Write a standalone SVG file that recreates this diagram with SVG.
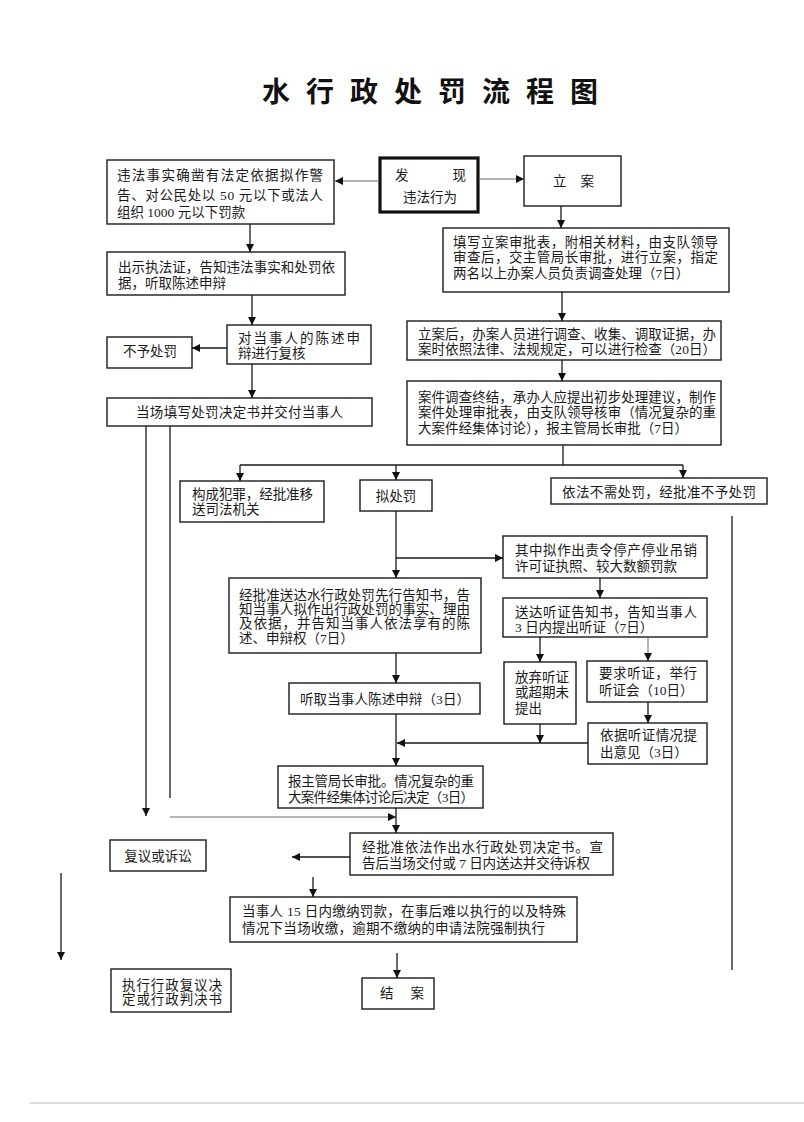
<svg xmlns="http://www.w3.org/2000/svg" width="804" height="1122" viewBox="0 0 804 1122">
<style>
.bx{fill:#fff;stroke:#1a1a1a;stroke-width:1.4}
.bk{fill:#fff;stroke:#111;stroke-width:3.2}
.t{font-family:"Liberation Serif","Noto Sans CJK SC",serif;font-size:13.5px;fill:#1a1a1a}
.c{text-anchor:middle}
.ln{fill:none;stroke:#1a1a1a;stroke-width:1.3}
.th{fill:none;stroke:#444;stroke-width:0.8}
.ttl{font-family:"Liberation Serif","Noto Sans CJK SC",serif;font-size:28px;font-weight:bold;fill:#111}
</style>
<defs>
<marker id="ar" viewBox="0 0 10 10" refX="10" refY="5" markerWidth="8" markerHeight="8" markerUnits="userSpaceOnUse" orient="auto">
<path d="M0,0 L10,5 L0,10 z" fill="#111"/>
</marker>
</defs>
<rect width="804" height="1122" fill="#fff"/>
<text class="ttl" x="262" y="102" textLength="336" lengthAdjust="spacing">水行政处罚流程图</text>

<g id="n1"><rect class="bx" x="107" y="160" width="227" height="64"/>
<text class="t" x="117" y="180" textLength="206" lengthAdjust="spacing">违法事实确凿有法定依据拟作警</text>
<text class="t" x="117" y="200" textLength="206" lengthAdjust="spacing">告、对公民处以 50 元以下或法人</text>
<text class="t" x="117" y="217">组织 1000 元以下罚款</text></g>

<g id="n2"><rect class="bk" x="380" y="158" width="98" height="54"/>
<text class="t" x="395" y="180" textLength="71" lengthAdjust="spacing">发现</text>
<text class="t c" x="430" y="202">违法行为</text></g>

<g id="n3"><rect class="bx" x="524" y="156" width="97" height="50"/>
<text class="t" x="553" y="186" textLength="41" lengthAdjust="spacing">立案</text></g>

<g id="n4"><rect class="bx" x="443" y="228" width="286" height="64"/>
<text class="t" x="453" y="247" textLength="265" lengthAdjust="spacing">填写立案审批表，附相关材料，由支队领导</text>
<text class="t" x="453" y="262" textLength="265" lengthAdjust="spacing">审查后，交主管局长审批，进行立案，指定</text>
<text class="t" x="453" y="278">两名以上办案人员负责调查处理（7日）</text></g>

<g id="n5"><rect class="bx" x="107" y="252" width="238" height="43"/>
<text class="t" x="118" y="272" textLength="217" lengthAdjust="spacing">出示执法证，告知违法事实和处罚依</text>
<text class="t" x="118" y="288">据，听取陈述申辩</text></g>

<g id="n6"><rect class="bx" x="227" y="325" width="144" height="39"/>
<text class="t" x="238" y="343" textLength="122" lengthAdjust="spacing">对当事人的陈述申</text>
<text class="t" x="238" y="358">辩进行复核</text></g>

<g id="n7"><rect class="bx" x="107" y="337" width="85" height="31"/>
<text class="t c" x="150" y="356">不予处罚</text></g>

<g id="n8"><rect class="bx" x="107" y="398" width="265" height="28"/>
<text class="t" x="136" y="417" textLength="207" lengthAdjust="spacing">当场填写处罚决定书并交付当事人</text></g>

<g id="n9"><rect class="bx" x="407" y="321" width="314" height="39"/>
<text class="t" x="418" y="339" textLength="298" lengthAdjust="spacing">立案后，办案人员进行调查、收集、调取证据，办</text>
<text class="t" x="418" y="354" textLength="298" lengthAdjust="spacing">案时依照法律、法规规定，可以进行检查（20日）</text></g>

<g id="n10"><rect class="bx" x="407" y="381" width="314" height="64"/>
<text class="t" x="418" y="402" textLength="298" lengthAdjust="spacing">案件调查终结，承办人应提出初步处理建议，制作</text>
<text class="t" x="418" y="417" textLength="298" lengthAdjust="spacing">案件处理审批表，由支队领导核审（情况复杂的重</text>
<text class="t" x="418" y="433">大案件经集体讨论），报主管局长审批（7日）</text></g>

<g id="n11"><rect class="bx" x="180" y="481" width="144" height="41"/>
<text class="t" x="192" y="499" textLength="121" lengthAdjust="spacing">构成犯罪，经批准移</text>
<text class="t" x="192" y="514">送司法机关</text></g>

<g id="n12"><rect class="bx" x="360" y="480" width="72" height="31"/>
<text class="t c" x="396" y="501">拟处罚</text></g>

<g id="n13"><rect class="bx" x="551" y="478" width="216" height="26"/>
<text class="t" x="562" y="497" textLength="194" lengthAdjust="spacing">依法不需处罚，经批准不予处罚</text></g>

<g id="n14"><rect class="bx" x="503" y="536" width="204" height="42"/>
<text class="t" x="515" y="555" textLength="182" lengthAdjust="spacing">其中拟作出责令停产停业吊销</text>
<text class="t" x="515" y="571">许可证执照、较大数额罚款</text></g>

<g id="n15"><rect class="bx" x="503" y="598" width="204" height="39"/>
<text class="t" x="515" y="617" textLength="182" lengthAdjust="spacing">送达听证告知书，告知当事人</text>
<text class="t" x="515" y="632">3 日内提出听证（7日）</text></g>

<g id="n16"><rect class="bx" x="229" y="578" width="252" height="75"/>
<text class="t" x="239" y="600" textLength="231" lengthAdjust="spacing">经批准送达水行政处罚先行告知书，告</text>
<text class="t" x="239" y="614" textLength="231" lengthAdjust="spacing">知当事人拟作出行政处罚的事实、理由</text>
<text class="t" x="239" y="628" textLength="231" lengthAdjust="spacing">及依据，并告知当事人依法享有的陈</text>
<text class="t" x="239" y="643">述、申辩权（7日）</text></g>

<g id="n17"><rect class="bx" x="289" y="683" width="191" height="31"/>
<text class="t" x="300" y="704" textLength="170" lengthAdjust="spacing">听取当事人陈述申辩（3日）</text></g>

<g id="n18"><rect class="bx" x="278" y="766" width="205" height="42"/>
<text class="t" x="288" y="786" textLength="186" lengthAdjust="spacing">报主管局长审批。情况复杂的重</text>
<text class="t" x="288" y="802" textLength="186" lengthAdjust="spacing">大案件经集体讨论后决定（3日）</text></g>

<g id="n19"><rect class="bx" x="504" y="662" width="72" height="62"/>
<text class="t" x="515" y="682">放弃听证</text>
<text class="t" x="515" y="697">或超期未</text>
<text class="t" x="515" y="713">提出</text></g>

<g id="n20"><rect class="bx" x="587" y="661" width="120" height="41"/>
<text class="t" x="599" y="678" textLength="98" lengthAdjust="spacing">要求听证，举行</text>
<text class="t" x="599" y="695">听证会（10日）</text></g>

<g id="n21"><rect class="bx" x="588" y="723" width="119" height="41"/>
<text class="t" x="600" y="740" textLength="97" lengthAdjust="spacing">依据听证情况提</text>
<text class="t" x="600" y="757">出意见（3日）</text></g>

<g id="n22"><rect class="bx" x="350" y="833" width="263" height="42"/>
<text class="t" x="362" y="852" textLength="241" lengthAdjust="spacing">经批准依法作出水行政处罚决定书。宣</text>
<text class="t" x="362" y="868" textLength="228" lengthAdjust="spacing">告后当场交付或 7 日内送达并交待诉权</text></g>

<g id="n23"><rect class="bx" x="110" y="840" width="96" height="31"/>
<text class="t c" x="158" y="861">复议或诉讼</text></g>

<g id="n24"><rect class="bx" x="230" y="897" width="347" height="45"/>
<text class="t" x="242" y="916" textLength="324" lengthAdjust="spacing">当事人 15 日内缴纳罚款，在事后难以执行的以及特殊</text>
<text class="t" x="242" y="933" textLength="303" lengthAdjust="spacing">情况下当场收缴，逾期不缴纳的申请法院强制执行</text></g>

<g id="n25"><rect class="bx" x="362" y="978" width="72" height="31"/>
<text class="t" x="380" y="998" textLength="44" lengthAdjust="spacing">结案</text></g>

<g id="n26"><rect class="bx" x="111" y="969" width="120" height="43"/>
<text class="t" x="122" y="990" textLength="100" lengthAdjust="spacing">执行行政复议决</text>
<text class="t" x="122" y="1004" textLength="100" lengthAdjust="spacing">定或行政判决书</text></g>

<g id="connectors">
<path class="th" d="M380,181 H335" marker-end="url(#ar)"/>
<path class="th" d="M478,179 H524" marker-end="url(#ar)"/>
<path class="ln" d="M561,206 V228" marker-end="url(#ar)"/>
<path class="ln" d="M562,292 V321" marker-end="url(#ar)"/>
<path class="ln" d="M562,360 V381" marker-end="url(#ar)"/>
<path class="ln" d="M563,445 V465 M240,465 H683"/>
<path class="ln" d="M240,465 V481" marker-end="url(#ar)"/>
<path class="ln" d="M396,465 V480" marker-end="url(#ar)"/>
<path class="ln" d="M683,465 V478" marker-end="url(#ar)"/>
<path class="ln" d="M250,224 V252" marker-end="url(#ar)"/>
<path class="ln" d="M252,295 V325" marker-end="url(#ar)"/>
<path class="ln" d="M227,348 H192" marker-end="url(#ar)"/>
<path class="ln" d="M252,364 V398" marker-end="url(#ar)"/>
<path class="ln" d="M146,426 V816" marker-end="url(#ar)"/>
<path class="ln" d="M170,426 V798"/>
<path class="th" d="M170,817 H396" marker-end="url(#ar)"/>
<path class="ln" d="M396,511 V578" marker-end="url(#ar)"/>
<path class="ln" d="M396,558 H503" marker-end="url(#ar)"/>
<path class="ln" d="M600,578 V598" marker-end="url(#ar)"/>
<path class="ln" d="M540,637 V662" marker-end="url(#ar)"/>
<path class="th" d="M648,637 V661" marker-end="url(#ar)"/>
<path class="ln" d="M648,702 V723" marker-end="url(#ar)"/>
<path class="ln" d="M540,724 V743" marker-end="url(#ar)"/>
<path class="ln" d="M588,743 H397" marker-end="url(#ar)"/>
<path class="ln" d="M396,653 V683" marker-end="url(#ar)"/>
<path class="ln" d="M396,714 V766" marker-end="url(#ar)"/>
<path class="ln" d="M396,808 V833" marker-end="url(#ar)"/>
<path class="ln" d="M350,857 H292" marker-end="url(#ar)"/>
<path class="ln" d="M313,877 V897" marker-end="url(#ar)"/>
<path class="ln" d="M397,953 V978" marker-end="url(#ar)"/>
<path class="ln" d="M61,873 V960" marker-end="url(#ar)"/>
<path class="ln" d="M732,516 V970"/>
</g>
<path d="M30,1103 H804" stroke="#aaa" stroke-width="0.8"/>
</svg>
